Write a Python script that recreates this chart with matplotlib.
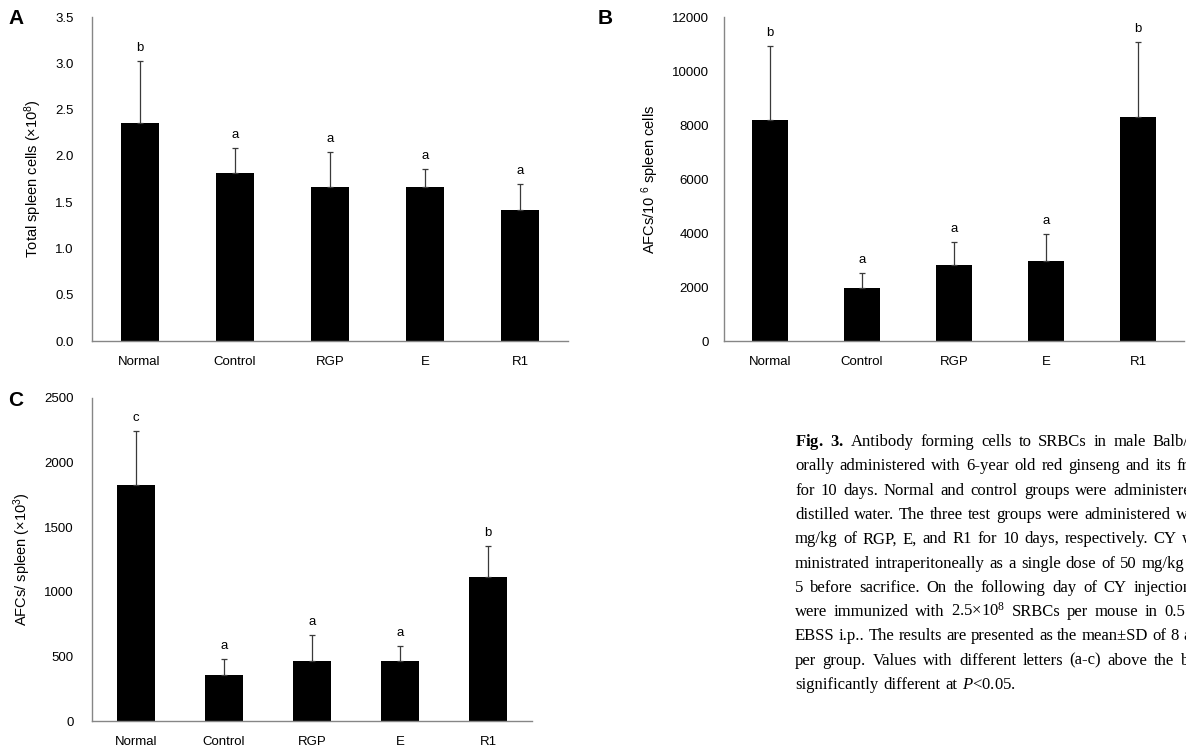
import numpy as np
import matplotlib.pyplot as plt

# groups on the x axis
groups = ['Normal', 'Control', 'RGP', 'E', 'R1']

# A: total spleen cells (x10^8)
a_mean = [2.36, 1.81, 1.66, 1.66, 1.42]
a_sd = [0.67, 0.28, 0.38, 0.20, 0.28]
a_letters = ['b', 'a', 'a', 'a', 'a']

# B: AFCs per 10^6 spleen cells
b_mean = [8180, 1960, 2810, 2960, 8280]
b_sd = [2750, 550, 850, 990, 2800]
b_letters = ['b', 'a', 'a', 'a', 'b']

# C: AFCs per spleen (x10^3)
c_mean = [1825, 355, 465, 465, 1115]
c_sd = [420, 125, 200, 115, 237]
c_letters = ['c', 'a', 'a', 'a', 'b']

# caption, one string per printed line (justified, runs off the right edge)
caption_lines = [
    r'$\mathbf{Fig.}$ $\mathbf{3.}$ Antibody forming cells to SRBCs in male Balb/c mice',
    'orally administered with 6-year old red ginseng and its fractions',
    'for 10 days. Normal and control groups were administered with',
    'distilled water. The three test groups were administered with 100',
    'mg/kg of RGP, E, and R1 for 10 days, respectively. CY was ad-',
    'ministrated intraperitoneally as a single dose of 50 mg/kg on day',
    '5 before sacrifice. On the following day of CY injection, mice',
    r'were immunized with 2.5$\mathregular{\times10^{8}}$ SRBCs per mouse in 0.5 mL of',
    'EBSS i.p.. The results are presented as the mean±SD of 8 animals',
    'per group. Values with different letters (a-c) above the bars are',
    r'significantly different at $\mathit{P}$<0.05.',
]

plt.rcParams['font.family'] = ['Liberation Sans', 'DejaVu Sans']
plt.rcParams['mathtext.fontset'] = 'custom'
plt.rcParams['mathtext.rm'] = 'Liberation Serif'
plt.rcParams['mathtext.it'] = 'Liberation Serif:italic'
plt.rcParams['mathtext.bf'] = 'Liberation Serif:bold'

W, H = 1186, 755
fig = plt.figure(figsize=(W / 100, H / 100), dpi=100)


def px_axes(left, top, right, bottom):
    return fig.add_axes([left / W, 1 - bottom / H, (right - left) / W, (bottom - top) / H])


def bar_panel(ax, means, sds, letters, yticks, fmt, ylabel, ypad, bw=0.4):
    x = np.arange(len(groups))
    ax.bar(x, means, width=bw, color='black', zorder=2)
    ax.errorbar(x, means, yerr=[np.zeros(len(sds)), sds], fmt='none',
                ecolor='#3a3a3a', elinewidth=0.9, capsize=2.2, capthick=0.9, zorder=3)
    for xi, m, s, l in zip(x, means, sds, letters):
        ax.annotate(l, (xi, m + s), xytext=(0, 5), textcoords='offset points',
                    ha='center', va='bottom', fontsize=9.5)
    ax.set_xlim(-0.5, len(groups) - 0.5)
    ax.set_ylim(yticks[0], yticks[-1])
    ax.set_yticks(yticks)
    ax.set_yticklabels([fmt.format(t) for t in yticks])
    ax.set_xticks(x)
    ax.set_xticklabels(groups)
    ax.tick_params(axis='both', length=0, labelsize=9.5)
    ax.tick_params(axis='y', pad=ypad)
    ax.tick_params(axis='x', pad=11)
    for s in ['top', 'right']:
        ax.spines[s].set_visible(False)
    for s in ['left', 'bottom']:
        ax.spines[s].set_color('#868686')
        ax.spines[s].set_linewidth(1.0)
    ax.set_ylabel(ylabel, fontsize=10.5, labelpad=8)


ax_a = px_axes(92, 17, 568, 341)
bar_panel(ax_a, a_mean, a_sd, a_letters, np.arange(0, 3.51, 0.5), '{:.1f}',
          r'Total spleen cells (×$\mathregular{10^{8}}$)', 13)

ax_b = px_axes(724, 17, 1184, 341)
bar_panel(ax_b, b_mean, b_sd, b_letters, np.arange(0, 12001, 2000), '{:.0f}',
          r'AFCs/10 $\mathregular{^{6}}$ spleen cells', 11)

ax_c = px_axes(92, 398, 532, 721)
bar_panel(ax_c, c_mean, c_sd, c_letters, np.arange(0, 2501, 500), '{:.0f}',
          r'AFCs/ spleen (×$\mathregular{10^{3}}$)', 13, bw=0.43)

for label, xp, yp in [('A', 8, 19), ('B', 598, 19), ('C', 8, 400)]:
    fig.text(xp / W, 1 - yp / H, label, fontsize=15, fontweight='bold',
             ha='left', va='center')

# justified caption: place each word so the line spans a fixed width
renderer = fig.canvas.get_renderer()
x0, line_w, base0, lead = 795, 440, 446, 24.3
for i, line in enumerate(caption_lines):
    y = 1 - (base0 + i * lead) / H
    words = [fig.text(0, y, w, fontsize=12, family='Liberation Serif',
                      ha='left', va='baseline') for w in line.split(' ')]
    widths = [t.get_window_extent(renderer).width for t in words]
    last = i == len(caption_lines) - 1
    gap = 5 if last else (line_w - sum(widths)) / (len(words) - 1)
    xp = x0
    for t, wd in zip(words, widths):
        t.set_x(xp / W)
        xp += wd + gap

fig.savefig('out.png', dpi=100)
